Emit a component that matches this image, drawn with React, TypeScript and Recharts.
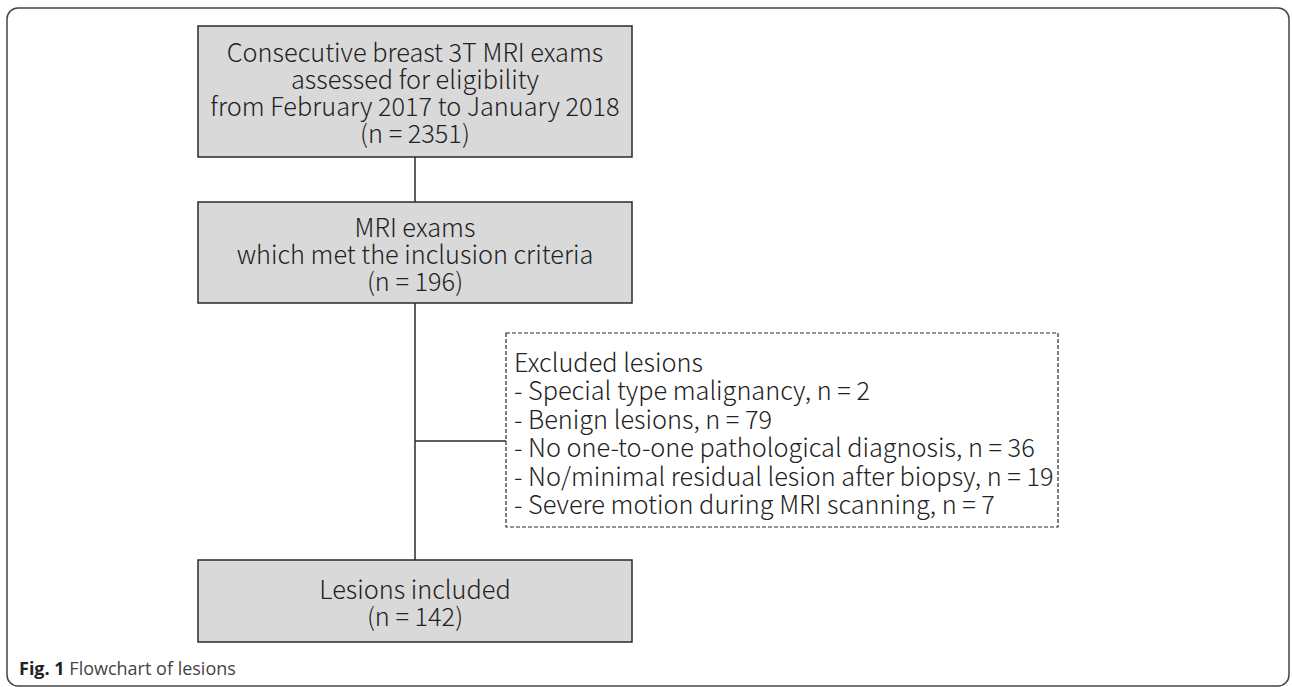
import React from 'react';
import {
  ComposedChart,
  XAxis,
  YAxis,
  Scatter,
  ReferenceArea,
  ReferenceLine,
} from 'recharts';

// ---- Data (flowchart content) ----
const screenedLines = [
  'Consecutive breast 3T MRI exams',
  'assessed for eligibility',
  'from February 2017 to January 2018',
];
const screenedCount = 2351;

const eligibleLines = ['MRI exams', 'which met the inclusion criteria'];
const eligibleCount = 196;

const excludedTitle = 'Excluded lesions';
const excludedReasons = [
  'Special type malignancy',
  'Benign lesions',
  'No one-to-one pathological diagnosis',
  'No/minimal residual lesion after biopsy',
  'Severe motion during MRI scanning',
];
const excludedCounts = [2, 79, 36, 19, 7];

const includedLines = ['Lesions included'];
const includedCount = 142;

const captionBold = 'Fig. 1';
const captionText = 'Flowchart of lesions';

// ---- Layout (chart data units: 1 unit = 1 px of the 1292x687 canvas) ----
const W = 1292;
const H = 687;
const CX = 415; // centre line of main boxes
const BOX_X = [198, 632];
const BOX1_Y = [26, 157];
const BOX2_Y = [202, 303];
const BOX3_Y = [560, 642];
const EXC_X = [506, 1058];
const EXC_Y = [333, 527];
const LINE_GAP = 27;
const EXC_GAP = 28.5;
const JOIN_Y = 441;

const FONT = '"Noto Sans CJK JP", "Noto Sans", sans-serif';
const FONT_SIZE = 25.3;
const TEXT_COLOR = '#222';
const BOX_FILL = '#d9d9d9';
const EDGE = '#2a2a2a';

type TextBlock = {
  x: number;
  y: number;
  lines: string[];
  anchor: string;
  gap: number;
  kind: string;
};

const textBlocks: TextBlock[] = [
  {
    x: CX,
    y: (BOX1_Y[0] + BOX1_Y[1]) / 2,
    lines: [...screenedLines, `(n = ${screenedCount})`],
    anchor: 'middle',
    gap: LINE_GAP,
    kind: 'box',
  },
  {
    x: CX,
    y: (BOX2_Y[0] + BOX2_Y[1]) / 2,
    lines: [...eligibleLines, `(n = ${eligibleCount})`],
    anchor: 'middle',
    gap: LINE_GAP,
    kind: 'box',
  },
  {
    x: CX,
    y: (BOX3_Y[0] + BOX3_Y[1]) / 2,
    lines: [...includedLines, `(n = ${includedCount})`],
    anchor: 'middle',
    gap: LINE_GAP,
    kind: 'box',
  },
  {
    x: EXC_X[0] + 8,
    y: (EXC_Y[0] + EXC_Y[1]) / 2 + 2,
    lines: [excludedTitle, ...excludedReasons.map((r, i) => `- ${r}, n = ${excludedCounts[i]}`)],
    anchor: 'start',
    gap: EXC_GAP,
    kind: 'box',
  },
];

const captionPoints: TextBlock[] = [
  { x: 19, y: 668, lines: [captionText], anchor: 'start', gap: 0, kind: 'caption' },
];

const TextShape = (props: any) => {
  const { cx, cy, payload } = props;
  if (cx == null || cy == null) return null;
  if (payload.kind === 'caption') {
    return (
      <text
        x={cx}
        y={cy}
        dominantBaseline="central"
        fontFamily='"Open Sans", "Noto Sans", sans-serif'
        fontSize={18}
        fill="#444"
      >
        <tspan fontWeight={700} fill="#222">
          {captionBold}
        </tspan>
        <tspan> {payload.lines[0]}</tspan>
      </text>
    );
  }
  const n = payload.lines.length;
  const top = cy - ((n - 1) / 2) * payload.gap;
  return (
    <text
      x={cx}
      y={top}
      textAnchor={payload.anchor}
      dominantBaseline="central"
      fontFamily={FONT}
      fontSize={FONT_SIZE}
      fontWeight={300}
      fill={TEXT_COLOR}
    >
      {payload.lines.map((t: string, i: number) => (
        <tspan key={i} x={cx} y={top + i * payload.gap}>
          {t}
        </tspan>
      ))}
    </text>
  );
};

export default function App() {
  return (
    <div style={{ position: 'absolute', left: 0, top: 0, width: W, height: H, background: '#fff' }}>
      <ComposedChart width={W} height={H} margin={{ top: 0, right: 0, bottom: 0, left: 0 }}>
        <XAxis type="number" dataKey="x" domain={[0, W]} hide allowDataOverflow />
        <YAxis type="number" dataKey="y" domain={[0, H]} reversed hide allowDataOverflow />

        {/* page frame */}
        <ReferenceArea
          x1={7}
          x2={1289}
          y1={8}
          y2={686}
          fill="none"
          stroke="#444"
          strokeWidth={1.5}
          radius={11}
          ifOverflow="visible"
        />

        {/* connectors */}
        <ReferenceLine
          segment={[{ x: CX, y: BOX1_Y[1] }, { x: CX, y: BOX2_Y[0] }]}
          stroke={EDGE}
          strokeWidth={1.5}
        />
        <ReferenceLine
          segment={[{ x: CX, y: BOX2_Y[1] }, { x: CX, y: BOX3_Y[0] }]}
          stroke={EDGE}
          strokeWidth={1.5}
        />
        <ReferenceLine
          segment={[{ x: CX, y: JOIN_Y }, { x: EXC_X[0], y: JOIN_Y }]}
          stroke={EDGE}
          strokeWidth={1.5}
        />

        {/* boxes */}
        {[BOX1_Y, BOX2_Y, BOX3_Y].map((yy, i) => (
          <ReferenceArea
            key={i}
            x1={BOX_X[0]}
            x2={BOX_X[1]}
            y1={yy[0]}
            y2={yy[1]}
            fill={BOX_FILL}
            fillOpacity={1}
            stroke={EDGE}
            strokeWidth={1.5}
          />
        ))}
        <ReferenceArea
          x1={EXC_X[0]}
          x2={EXC_X[1]}
          y1={EXC_Y[0]}
          y2={EXC_Y[1]}
          fill="#fff"
          fillOpacity={1}
          stroke={EDGE}
          strokeWidth={1.2}
          strokeDasharray="4 2"
        />

        <Scatter data={textBlocks} dataKey="y" shape={TextShape} isAnimationActive={false} />
        <Scatter data={captionPoints} dataKey="y" shape={TextShape} isAnimationActive={false} />
      </ComposedChart>
    </div>
  );
}
